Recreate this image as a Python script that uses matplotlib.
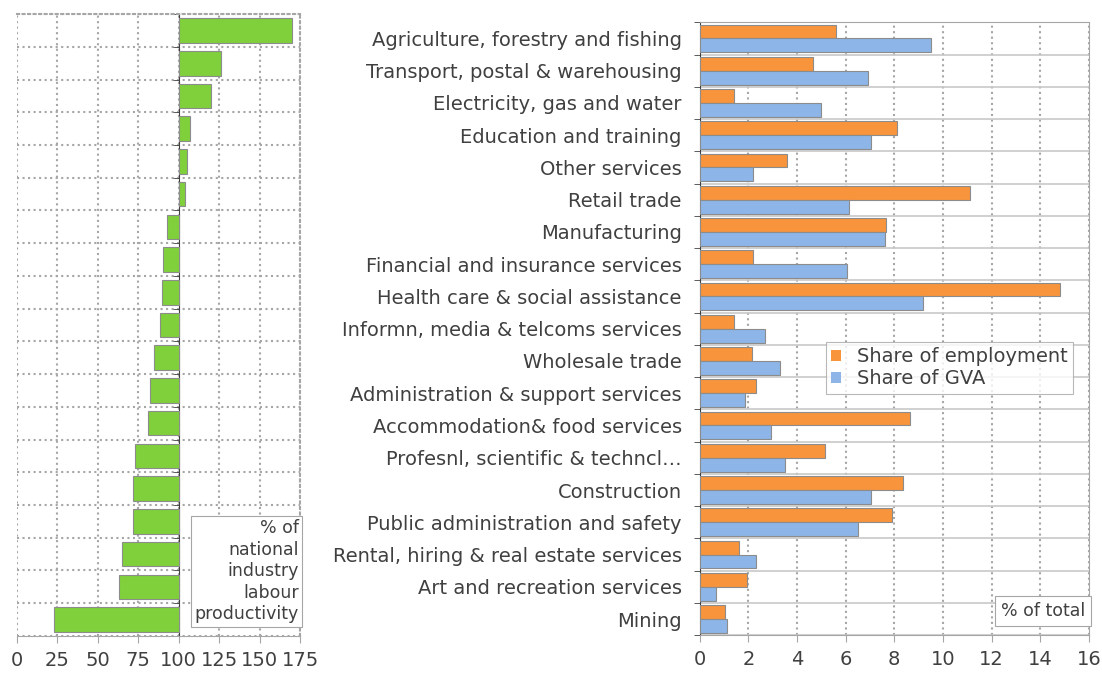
import numpy as np
import matplotlib
matplotlib.use("Agg")
import matplotlib.pyplot as plt

industries = [
    "Agriculture, forestry and fishing",
    "Transport, postal & warehousing",
    "Electricity, gas and water",
    "Education and training",
    "Other services",
    "Retail trade",
    "Manufacturing",
    "Financial and insurance services",
    "Health care & social assistance",
    "Informn, media & telcoms services",
    "Wholesale trade",
    "Administration & support services",
    "Accommodation& food services",
    "Profesnl, scientific & techncl\u2026",
    "Construction",
    "Public administration and safety",
    "Rental, hiring & real estate services",
    "Art and recreation services",
    "Mining",
]

# % of national industry labour productivity (left panel)
productivity = [170, 126, 120, 107, 105, 104, 93, 90, 89.5, 88.5,
                85, 82, 81, 73, 72, 72, 65, 63, 23]

# share of total (right panel)
share_employment = [5.6, 4.65, 1.4, 8.1, 3.6, 11.1, 7.65, 2.2, 14.8, 1.4,
                    2.15, 2.3, 8.65, 5.15, 8.35, 7.9, 1.6, 1.95, 1.05]
share_gva = [9.5, 6.9, 5.0, 7.05, 2.2, 6.15, 7.6, 6.05, 9.2, 2.7,
             3.3, 1.85, 2.95, 3.5, 7.05, 6.5, 2.3, 0.65, 1.1]

prod_ticks = [0, 25, 50, 75, 100, 125, 150, 175]
share_ticks = [0, 2, 4, 6, 8, 10, 12, 14, 16]

TXT = "#404040"
GRID = "#a6a6a6"
EDGE = "#8c8c8c"
plt.rcParams["font.family"] = ["DejaVu Sans"]
plt.rcParams["font.size"] = 12

fig = plt.figure(figsize=(11.02, 6.75), dpi=100)
n = len(industries)
y = np.arange(n)

# ---- left panel
ax1 = fig.add_axes([0.0152, 0.058, 0.2572, 0.921])
ax1.barh(y, np.array(productivity) - 100, left=100, height=0.75,
         color="#80d03c", edgecolor=EDGE, linewidth=0.8, zorder=3)
ax1.set_xlim(0, 175)
ax1.set_ylim(n - 0.5, -0.5)
ax1.set_xticks(prod_ticks)
ax1.set_yticks(y)
ax1.set_yticklabels([])
ax1.tick_params(axis="y", which="major", length=0)
ax1.set_yticks(np.arange(-0.5, n, 1), minor=True)
ax1.tick_params(axis="y", which="minor", length=4, color="#404040")
ax1.tick_params(axis="x", length=5, color=GRID, labelcolor=TXT, labelsize=14, pad=6)
ax1.spines["left"].set_position(("data", 100))
ax1.spines["left"].set_color("#404040")
ax1.spines["bottom"].set_color(GRID)
for s in ["top", "right"]:
    ax1.spines[s].set_color(GRID)
    ax1.spines[s].set_linestyle(":")
    ax1.spines[s].set_linewidth(1.5)
ax1.grid(axis="x", which="major", color=GRID, linestyle=":", linewidth=1.5, zorder=0)
ax1.grid(axis="y", which="minor", color=GRID, linestyle=":", linewidth=1.5, zorder=0)
ax1.set_axisbelow(True)
ax1.text(0.995, 0.02, "% of\nnational\nindustry\nlabour\nproductivity",
         transform=ax1.transAxes, ha="right", va="bottom", color=TXT,
         fontsize=12.5, linespacing=1.25, zorder=5,
         bbox=dict(boxstyle="square,pad=0.2", facecolor="white", edgecolor=GRID, linewidth=0.8))

# ---- right panel
ax2 = fig.add_axes([0.635, 0.059, 0.353, 0.908])
bh = 0.43
ax2.barh(y - bh / 2, share_employment, height=bh, color="#f7943c",
         edgecolor=EDGE, linewidth=0.8, label="Share of employment", zorder=3)
ax2.barh(y + bh / 2, share_gva, height=bh, color="#8db5e8",
         edgecolor=EDGE, linewidth=0.8, label="Share of GVA", zorder=3)
ax2.set_xlim(0, 16)
ax2.set_ylim(n - 0.5, -0.5)
ax2.set_xticks(share_ticks)
ax2.set_yticks(y)
ax2.set_yticklabels(industries, color=TXT, fontsize=14)
ax2.tick_params(axis="y", which="major", length=0, pad=13)
ax2.set_yticks(np.arange(-0.5, n, 1), minor=True)
ax2.tick_params(axis="y", which="minor", length=4, color="#404040")
ax2.tick_params(axis="x", length=5, color=GRID, labelcolor=TXT, labelsize=14, pad=6)
ax2.spines["left"].set_color("#404040")
for s in ["top", "right", "bottom"]:
    ax2.spines[s].set_color(GRID)
ax2.grid(axis="x", which="major", color=GRID, linestyle=":", linewidth=1.5, zorder=0)
ax2.grid(axis="y", which="minor", color="#c8c8c8", linestyle="-", linewidth=1.2, zorder=0)
ax2.set_axisbelow(True)
leg = ax2.legend(loc="upper right", bbox_to_anchor=(0.985, 0.495), fontsize=14,
                 frameon=True, fancybox=False, handlelength=0.5, handleheight=0.5,
                 handletextpad=0.8, borderpad=0.3, labelspacing=0.15)
leg.get_frame().set_edgecolor(GRID)
leg.get_frame().set_linewidth(0.8)
for t in leg.get_texts():
    t.set_color(TXT)
for h in leg.legend_handles:
    h.set_edgecolor("none")
ax2.text(0.99, 0.04, "% of total", transform=ax2.transAxes, ha="right", va="center",
         color=TXT, fontsize=12.5, zorder=5,
         bbox=dict(boxstyle="square,pad=0.35", facecolor="white", edgecolor=GRID, linewidth=0.8))

fig.savefig("out.png", dpi=100)
